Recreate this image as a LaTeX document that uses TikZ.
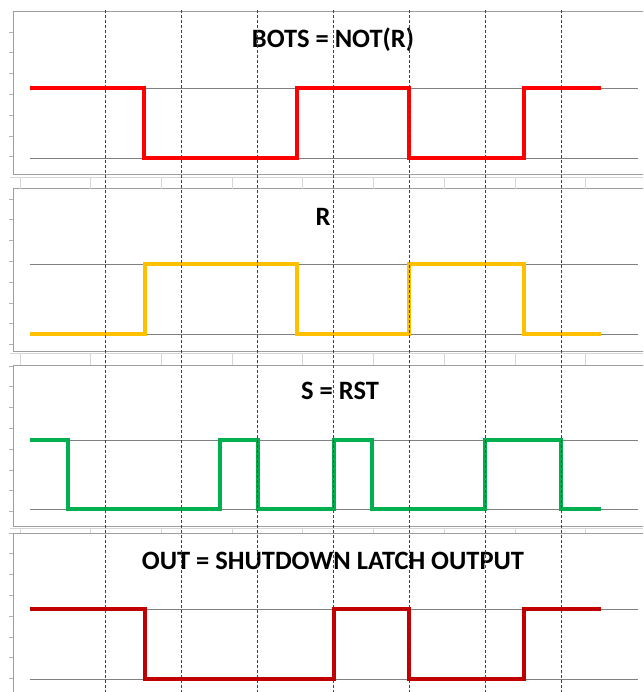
\documentclass[tikz,border=0pt]{standalone}
\usepackage{fontspec}
\setmainfont{Carlito}

\begin{document}
\begin{tikzpicture}[x=1pt, y=-1pt,
    frame/.style={draw=black!38, line width=1pt},
    cellline/.style={draw=black!16, line width=0.8pt},
    axistick/.style={draw=black!30, line width=0.8pt},
    level/.style={draw=black!50, line width=0.7pt},
    marker/.style={draw=black!75, dash pattern=on 3pt off 2pt, line width=0.9pt},
    wave/.style={line width=3.5pt, line join=miter},
    title/.style={font=\bfseries\fontsize{26.5}{28}\selectfont, inner sep=0pt}]
    \clip (0,0) rectangle (643,692);
    \fill[white] (0,0) rectangle (643,692);

    % Panel frames
    \foreach \top/\bot in {12/175, 189/351, 365/526, 533/700}
        \draw[frame] (13,\top) rectangle (660,\bot);

    % Sheet cells between the panels
    \foreach \y/\ny in {177/189, 353/365, 528/533} {
        \draw[cellline] (10,\y) -- (643,\y);
        \foreach \x in {20,90.7,...,600}
            \draw[cellline] (\x,\y) -- (\x,\ny);
    }

    % Axis ticks
    \foreach \s/\n in {32/6, 199/7, 366/7, 533/7}
        \foreach \k in {0,...,\n}
            \draw[axistick] (9,\s+\k*20.8) -- (13,\s+\k*20.8);

    % Logic levels
    \foreach \hi/\lo in {88/158, 264/334, 440/509, 609/679} {
        \draw[level] (30,\hi) -- (638,\hi);
        \draw[level] (30,\lo) -- (638,\lo);
    }

    % Titles
    \node[title] (bots) at (333,40) {BOTS = NOT(R)};
    \node[title] (rname) at (323,217) {R};
    \node[title] (sname) at (340,391) {S = RST};
    \node[title] (outname) at (333,561) {OUT = SHUTDOWN LATCH OUTPUT};

    % BOTS
    \draw[wave, red] (30,88) -| (144,158) -| (297,88) -| (409,158) -| (524,88) -- (601,88);
    % R
    \draw[wave, color={rgb,255:red,255;green,192;blue,0}]
        (30,334) -| (145,264) -| (297,334) -| (409,264) -| (524,334) -- (601,334);
    % S
    \draw[wave, color={rgb,255:red,0;green,176;blue,80}]
        (30,440) -| (68,509) -| (220,440) -| (258,509) -| (334,440) -| (372,509)
        -| (485,440) -| (561,509) -- (601,509);
    % OUT
    \draw[wave, color={rgb,255:red,192;green,0;blue,0}]
        (30,609) -| (145,679) -| (334,609) -| (409,679) -| (524,609) -- (601,609);

    % Time markers
    \foreach \x in {105,181,...,561}
        \draw[marker] (\x,10) -- (\x,692);
\end{tikzpicture}
\end{document}
